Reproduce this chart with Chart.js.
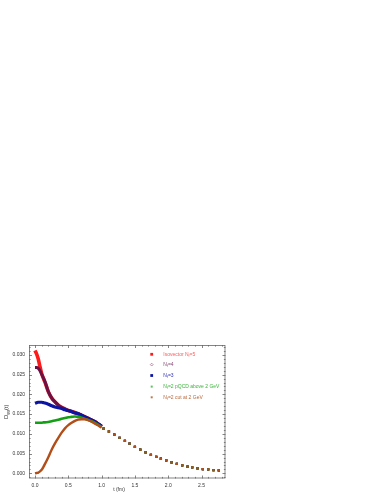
<!DOCTYPE html>
<html><head><meta charset="utf-8">
<script src="https://cdn.jsdelivr.net/npm/chart.js@4/dist/chart.umd.min.js"></script>
<style>html,body{margin:0;padding:0;background:#fff;}#wrap{position:absolute;left:0;top:0;width:382px;height:494px;}</style>
</head><body><div id="wrap"><canvas id="c" width="382" height="494"></canvas></div>
<script>
// ---- data ----
const tDense = [0, 0.025, 0.05, 0.075, 0.1, 0.125, 0.15, 0.2, 0.25, 0.3, 0.35, 0.4, 0.45, 0.5, 0.55, 0.6, 0.65, 0.7, 0.75, 0.8, 0.85, 0.9, 0.95, 1.0];
const dNf5 = [0.0311, 0.0302, 0.0289, 0.0270, 0.0253, 0.0241, 0.0231, 0.0207, 0.0191, 0.0181, 0.0173, 0.0167, 0.0163, 0.0159, 0.0157, 0.0154, 0.0151, 0.0147, 0.0143, 0.0139, 0.0135, 0.0131, 0.0125, 0.0119];
const dNf4 = [0.0268, 0.0268, 0.0266, 0.0260, 0.0251, 0.0242, 0.0232, 0.0207, 0.0191, 0.0181, 0.0173, 0.0167, 0.0163, 0.0159, 0.0157, 0.0154, 0.0151, 0.0147, 0.0143, 0.0139, 0.0135, 0.0131, 0.0125, 0.0119];
const dNf3 = [0.01775, 0.0179, 0.0180, 0.0180, 0.0180, 0.0179, 0.0178, 0.0175, 0.0171, 0.0168, 0.0166, 0.0164, 0.0161, 0.0159, 0.0156, 0.0153, 0.0151, 0.0147, 0.0143, 0.0139, 0.0135, 0.0131, 0.0125, 0.0119];
const dNf2pQCD = [0.0128, 0.0128, 0.0128, 0.0128, 0.0128, 0.0129, 0.0129, 0.0130, 0.0132, 0.0134, 0.0136, 0.0138, 0.0140, 0.0142, 0.0143, 0.0144, 0.0143, 0.0141, 0.0138, 0.0135, 0.0132, 0.0128, 0.0123, 0.0117];
const dNf2cut = [0.0000, 0.0001, 0.0002, 0.0005, 0.0009, 0.0016, 0.0024, 0.0041, 0.0060, 0.0076, 0.0090, 0.0103, 0.0114, 0.0122, 0.0128, 0.0133, 0.0136, 0.0137, 0.0137, 0.0135, 0.0131, 0.0126, 0.0121, 0.0116];
const tTail = [1.03, 1.11, 1.19, 1.27, 1.35, 1.42, 1.50, 1.58, 1.66, 1.74, 1.82, 1.89, 1.97, 2.05, 2.13, 2.21, 2.29, 2.36, 2.44, 2.52, 2.60, 2.68, 2.76];
const dTail = [0.0113, 0.0106, 0.0098, 0.0090, 0.0082, 0.0075, 0.0067, 0.0060, 0.0053, 0.0047, 0.0042, 0.0037, 0.0033, 0.0028, 0.0024, 0.0020, 0.00168, 0.00152, 0.00127, 0.00109, 0.00100, 0.00084, 0.00076];
const xTicks = [0.0, 0.5, 1.0, 1.5, 2.0, 2.5];
const yTicks = [0.000, 0.005, 0.010, 0.015, 0.020, 0.025, 0.030];
const legendLabels = [["Isovector N", "f", "=5"], ["N", "f", "=4"], ["N", "f", "=3"], ["N", "f", "=2 pQCD above 2 GeV"], ["N", "f", "=2 cut at 2 GeV"]];

const series = [dNf5, dNf4, dNf3, dNf2pQCD, dNf2cut];
const colors = ['#ff1a1a', '#6a1245', '#0c14a4', '#14a014', '#b24e18'];
const textColors = ['#ff5a5a', '#8a4a78', '#3434b4', '#3cb43c', '#b8683c'];
const widths = [3.6, 3.0, 3.2, 2.6, 2.4];
const FONT = '"Liberation Sans", Arial, sans-serif';

function pts(dense) {
  const a = tDense.map((t, i) => ({x: t, y: dense[i]}));
  return a.concat(tTail.map((t, i) => ({x: t, y: dTail[i]})));
}

const datasets = series.map((s, k) => ({
  label: legendLabels[k].join(''),
  data: pts(s),
  showLine: true,
  borderColor: colors[k],
  backgroundColor: colors[k],
  borderWidth: widths[k],
  cubicInterpolationMode: 'monotone',
  pointStyle: 'rect',
  pointRadius: c => (c.raw && c.raw.x > 1.01) ? 1.6 : 0,
  pointBorderWidth: 0,
  order: 4 - k,
  segment: { borderColor: c => c.p1.parsed.x > 1.01 ? 'rgba(0,0,0,0)' : undefined }
}));

const framePlugin = {
  id: 'frame',
  afterDatasetsDraw(chart) {
    const ctx = chart.ctx, a = chart.chartArea;
    const xs = chart.scales.x, ys = chart.scales.y;
    ctx.save();
    ctx.strokeStyle = '#666';
    ctx.lineWidth = 0.8;
    ctx.strokeRect(a.left + 0.5, a.top + 0.5, a.right - a.left - 1, a.bottom - a.top - 1);
    ctx.beginPath();
    // x ticks
    for (let v = -0.0; v <= 2.85; v += 0.1) {
      const vv = Math.round(v * 10) / 10;
      const major = Math.abs(vv * 2 - Math.round(vv * 2)) < 1e-6;
      const L = major ? 3 : 1.6;
      const px = Math.round(xs.getPixelForValue(vv)) + 0.5;
      ctx.moveTo(px, a.bottom); ctx.lineTo(px, a.bottom - L);
      ctx.moveTo(px, a.top); ctx.lineTo(px, a.top + L);
    }
    for (let i = -1; i <= 32; i++) {
      const vv = i / 1000;
      const major = i % 5 === 0;
      const L = major ? 3 : 1.6;
      const py = Math.round(ys.getPixelForValue(vv)) + 0.5;
      if (py < a.top || py > a.bottom) continue;
      ctx.moveTo(a.left, py); ctx.lineTo(a.left + L, py);
      ctx.moveTo(a.right, py); ctx.lineTo(a.right - L, py);
    }
    ctx.stroke();

    // axis titles
    ctx.fillStyle = '#333';
    ctx.font = '5px ' + FONT;
    ctx.textAlign = 'center';
    ctx.textBaseline = 'middle';
    ctx.fillText('t (fm)', 119, 490);
    ctx.translate(6, 409);
    ctx.rotate(-Math.PI / 2);
    ctx.textAlign = 'left';
    ctx.font = '6px ' + FONT;
    let x0 = -10;
    ctx.fillText('D', x0, 0); x0 += ctx.measureText('D').width;
    ctx.font = '4px ' + FONT;
    ctx.fillText('gg', x0, 2); x0 += ctx.measureText('gg').width;
    ctx.font = '6px ' + FONT;
    ctx.fillText('(t)', x0, 0);
    ctx.restore();

    // legend
    ctx.save();
    const rows = [354.3, 364.6, 375.5, 386.6, 397.3];
    const mx = 151.7, tx = 163.3;
    rows.forEach((y, k) => {
      ctx.fillStyle = colors[k];
      if (k === 1) {
        ctx.strokeStyle = '#b07090'; ctx.lineWidth = 0.8;
        ctx.beginPath(); ctx.moveTo(mx, y - 1.4); ctx.lineTo(mx + 1.4, y); ctx.lineTo(mx, y + 1.4); ctx.lineTo(mx - 1.4, y); ctx.closePath(); ctx.stroke();
      } else if (k === 3) {
        ctx.fillStyle = '#5cc05c';
        ctx.fillRect(mx - 1, y - 1, 2, 2);
      } else if (k === 4) {
        ctx.fillStyle = '#c07850';
        ctx.fillRect(mx - 1, y - 1, 2, 2);
      } else {
        ctx.fillRect(mx - 1.4, y - 1.4, 2.8, 2.8);
      }
      const parts = legendLabels[k];
      ctx.fillStyle = textColors[k];
      ctx.textBaseline = 'middle';
      ctx.textAlign = 'left';
      let x = tx;
      ctx.font = '5px ' + FONT;
      ctx.fillText(parts[0], x, y); x += ctx.measureText(parts[0]).width;
      ctx.font = '3.5px ' + FONT;
      ctx.fillText(parts[1], x, y + 1.6); x += ctx.measureText(parts[1]).width;
      ctx.font = '5px ' + FONT;
      ctx.fillText(parts[2], x, y);
    });
    ctx.restore();
  }
};

new Chart(document.getElementById('c'), {
  type: 'scatter',
  data: { datasets },
  options: {
    responsive: false,
    animation: false,
    events: [],
    layout: { padding: { left: 0, top: 345, right: 156.5, bottom: 0 } },
    plugins: { legend: { display: false }, tooltip: { enabled: false } },
    scales: {
      x: {
        type: 'linear', min: -0.09, max: 2.86,
        grid: { display: false, drawTicks: false },
        border: { display: false },
        afterFit: s => { s.height = 15.5; },
        afterBuildTicks: s => { s.ticks = xTicks.map(v => ({value: v})); },
        ticks: { padding: 4, color: '#333', font: { size: 5, family: FONT }, callback: v => Number(v).toFixed(1), maxRotation: 0, autoSkip: false }
      },
      y: {
        type: 'linear', min: -0.0013, max: 0.0325,
        grid: { display: false, drawTicks: false },
        border: { display: false },
        afterFit: s => { s.width = 29; },
        afterBuildTicks: s => { s.ticks = yTicks.map(v => ({value: v})); },
        ticks: { padding: 4, color: '#333', font: { size: 5, family: FONT }, callback: v => Number(v).toFixed(3), autoSkip: false }
      }
    }
  },
  plugins: [framePlugin]
});
</script></body></html>
